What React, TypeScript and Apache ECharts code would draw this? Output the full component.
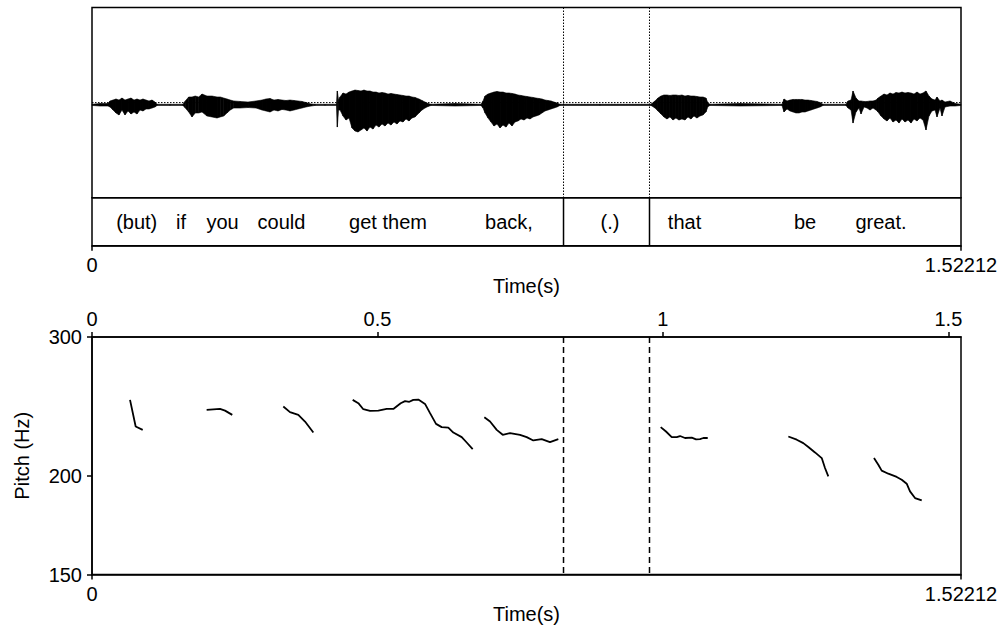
import React, { useEffect, useRef } from 'react';
import * as echarts from 'echarts';

// ---------- data ----------
const TOTAL_DURATION = 1.52212;
const boundaryTimes = [0.8259, 0.9765];
const tierWords = ['(but)', 'if', 'you', 'could', 'get them', 'back,', '(.)', 'that', 'be', 'great.'];
const tierWordTimes = [0.0783, 0.1559, 0.2286, 0.3319, 0.5185, 0.7304, 0.9073, 1.0378, 1.2489, 1.382];
const topTimeTicks = [0, 0.5, 1, 1.5];
const endTimeTicks = [0, TOTAL_DURATION];
const pitchTicks = [150, 200, 300];

// waveform envelope (normalized amplitude, full scale = 1)
const waveTime = [
  0, 0.014, 0.028, 0.0315, 0.0368, 0.042, 0.0473, 0.0525, 0.0578, 0.0631, 0.0683, 0.0736, 0.0788, 0.0841, 0.0893,
  0.0946, 0.0998, 0.1051, 0.1104, 0.1139, 0.1366, 0.1594, 0.1634, 0.1694, 0.1752, 0.1809, 0.1869, 0.1927, 0.2014,
  0.2102, 0.219, 0.2247, 0.2307, 0.2365, 0.2422, 0.2482, 0.2592, 0.2733, 0.2873, 0.2978, 0.3048, 0.3118, 0.3188,
  0.3258, 0.3328, 0.3398, 0.3468, 0.3538, 0.3608, 0.3678, 0.3748, 0.3836, 0.3906, 0.4081, 0.4283, 0.4297, 0.4318,
  0.4344, 0.4397, 0.4449, 0.4502, 0.4554, 0.4607, 0.4659, 0.4712, 0.4764, 0.4817, 0.4869, 0.4922, 0.4975, 0.5027,
  0.508, 0.5132, 0.5185, 0.5237, 0.529, 0.5342, 0.5395, 0.5447, 0.55, 0.5553, 0.5605, 0.5658, 0.5728, 0.578, 0.5833,
  0.5885, 0.5938, 0.6358, 0.6814, 0.6849, 0.6884, 0.6936, 0.6989, 0.7041, 0.7094, 0.7147, 0.7199, 0.7252, 0.7304,
  0.7357, 0.7409, 0.7462, 0.7514, 0.7567, 0.7619, 0.7672, 0.7725, 0.7777, 0.783, 0.7882, 0.7935, 0.7987, 0.804,
  0.8092, 0.8145, 0.8197, 0.8898, 0.9791, 0.9808, 0.9861, 0.9913, 0.9966, 1.0018, 1.0071, 1.0123, 1.0176, 1.0228,
  1.0281, 1.0333, 1.0386, 1.0439, 1.0491, 1.0544, 1.0596, 1.0649, 1.0701, 1.0754, 1.0789, 1.0825, 1.135, 1.2086,
  1.2121, 1.2174, 1.2226, 1.2279, 1.2331, 1.2384, 1.2436, 1.2489, 1.2541, 1.2594, 1.2647, 1.2699, 1.2752, 1.2804,
  1.3207, 1.3242, 1.3295, 1.333, 1.3382, 1.3435, 1.347, 1.3523, 1.3575, 1.3628, 1.368, 1.3733, 1.3768, 1.382,
  1.3873, 1.3925, 1.3978, 1.403, 1.4083, 1.4135, 1.4188, 1.424, 1.4293, 1.4345, 1.4398, 1.4451, 1.4503, 1.4556,
  1.4608, 1.4661, 1.4713, 1.4766, 1.4801, 1.4853, 1.4888, 1.4941, 1.5029, 1.5116, 1.5221,
];
const waveHigh = [
  -0.018, -0.009, -0.009, 0.017, 0.027, 0.038, 0.027, 0.048, 0.027, 0.038, 0.048, 0.027, 0.038, 0.027, 0.038,
  0.027, 0.017, 0.027, 0.006, -0.018, -0.018, -0.018, 0.017, 0.059, 0.059, 0.069, 0.059, 0.09, 0.069,
  0.069, 0.059, 0.059, 0.048, 0.038, 0.027, 0.017, 0.012, 0.006, 0.017, 0.027, 0.038, 0.043, 0.027,
  0.033, 0.027, 0.022, 0.027, 0.022, 0.017, 0.012, 0.001, -0.015, -0.018, -0.018, -0.018, 0.122, 0.027,
  0.059, 0.101, 0.09, 0.111, 0.122, 0.132, 0.127, 0.122, 0.132, 0.122, 0.122, 0.111, 0.111, 0.101,
  0.106, 0.101, 0.09, 0.096, 0.09, 0.085, 0.08, 0.075, 0.069, 0.069, 0.059, 0.054, 0.038, 0.022, 0.006,
  -0.009, -0.018, -0.009, -0.018, 0.017, 0.069, 0.09, 0.101, 0.111, 0.117, 0.111, 0.111, 0.101, 0.101,
  0.096, 0.09, 0.08, 0.075, 0.069, 0.064, 0.059, 0.054, 0.048, 0.043, 0.038, 0.027, 0.022, 0.017,
  0.006, -0.004, -0.018, -0.018, -0.018, -0.009, 0.017, 0.048, 0.069, 0.08, 0.08, 0.075, 0.08, 0.08,
  0.075, 0.08, 0.069, 0.075, 0.069, 0.069, 0.064, 0.059, 0.059, 0.048, -0.004, -0.018, -0.009, -0.018,
  0.038, 0.017, 0.027, 0.033, 0.033, 0.033, 0.033, 0.027, 0.027, 0.022, 0.017, 0.012, 0.001, -0.018,
  -0.018, 0.017, 0.027, 0.122, 0.048, 0.017, 0.017, 0.012, 0.012, 0.017, 0.017, 0.027, 0.048, 0.069,
  0.09, 0.08, 0.101, 0.09, 0.106, 0.101, 0.111, 0.101, 0.106, 0.101, 0.09, 0.111, 0.09, 0.101,
  0.122, 0.069, 0.038, 0.027, 0.059, 0.017, 0.027, 0.006, 0.017, -0.009, -0.018,
];
const waveLow = [
  -0.03, -0.036, -0.036, -0.046, -0.078, -0.109, -0.13, -0.078, -0.13, -0.088, -0.12, -0.099, -0.12, -0.078, -0.088,
  -0.067, -0.067, -0.057, -0.046, -0.03, -0.03, -0.03, -0.057, -0.099, -0.151, -0.109, -0.109, -0.099, -0.141,
  -0.151, -0.162, -0.151, -0.141, -0.109, -0.078, -0.057, -0.057, -0.052, -0.057, -0.078, -0.088, -0.099, -0.078,
  -0.088, -0.072, -0.078, -0.088, -0.078, -0.067, -0.057, -0.046, -0.036, -0.03, -0.03, -0.03, -0.257, -0.078,
  -0.078, -0.141, -0.183, -0.162, -0.267, -0.299, -0.309, -0.288, -0.267, -0.299, -0.257, -0.278, -0.236, -0.257,
  -0.225, -0.246, -0.215, -0.236, -0.204, -0.225, -0.193, -0.204, -0.172, -0.193, -0.162, -0.151, -0.109, -0.078, -0.057,
  -0.041, -0.03, -0.036, -0.03, -0.057, -0.109, -0.162, -0.204, -0.246, -0.225, -0.267, -0.236, -0.257, -0.215,
  -0.246, -0.204, -0.193, -0.172, -0.183, -0.162, -0.172, -0.151, -0.141, -0.13, -0.109, -0.088, -0.078, -0.067,
  -0.057, -0.046, -0.03, -0.03, -0.03, -0.036, -0.057, -0.088, -0.12, -0.151, -0.172, -0.151, -0.183, -0.162,
  -0.183, -0.172, -0.183, -0.151, -0.172, -0.141, -0.162, -0.141, -0.13, -0.099, -0.041, -0.03, -0.036, -0.03,
  -0.099, -0.067, -0.088, -0.099, -0.109, -0.109, -0.099, -0.099, -0.088, -0.078, -0.067, -0.057, -0.046, -0.03,
  -0.03, -0.057, -0.078, -0.215, -0.099, -0.057, -0.12, -0.046, -0.057, -0.078, -0.057, -0.078, -0.099, -0.141,
  -0.172, -0.193, -0.162, -0.204, -0.183, -0.215, -0.172, -0.204, -0.183, -0.215, -0.172, -0.193, -0.162, -0.183,
  -0.288, -0.141, -0.088, -0.078, -0.151, -0.057, -0.141, -0.046, -0.036, -0.036, -0.03,
];

// pitch contour (Hz); null separates voiced stretches
const pitchTime = [
  0.0666, 0.0765, 0.0888, null,
  0.2008, 0.2242, 0.233, 0.2457, null,
  0.3351, 0.3468, 0.3614, 0.3731, 0.3877, null,
  0.4566, 0.4665, 0.4752, 0.487, 0.5015, 0.5162, 0.5278, 0.5407, 0.5483, 0.5558, 0.5628, 0.5716, 0.5833, 0.5921,
  0.6026, 0.6125, 0.6241, 0.6329, 0.6476, 0.6563, 0.6668, null,
  0.6872, 0.6972, 0.7089, 0.7194, 0.7322, 0.7497, 0.7614, 0.773, 0.7877, 0.8022, 0.8168, null,
  0.9961, 1.0054, 1.0154, 1.0242, 1.03, 1.0387, 1.0505, 1.058, 1.065, 1.0708, 1.0785, null,
  1.2197, 1.2344, 1.2459, 1.2547, 1.2664, 1.2782, 1.2839, 1.2897, null,
  1.3697, 1.3773, 1.3832, 1.3948, 1.4095, 1.4183, 1.427, 1.4328, 1.4416, 1.4533,
];
const pitchHz = [
  249.7, 231.0, 228.8, null,
  242.5, 243.2, 242.0, 239.0, null,
  244.9, 240.9, 239.0, 234.4, 227.0, null,
  249.7, 247.3, 243.0, 241.8, 242.0, 243.2, 243.2, 247.3, 248.8, 248.3, 249.7, 249.9, 246.8, 240.2,
  232.8, 230.6, 230.3, 227.0, 224.0, 220.5, 216.3, null,
  237.4, 234.4, 228.8, 225.5, 226.6, 225.5, 224.0, 221.8, 222.7, 220.8, 222.7, null,
  230.6, 227.7, 224.0, 224.0, 224.7, 223.4, 223.6, 222.5, 222.7, 223.4, 223.4, null,
  224.4, 222.3, 220.1, 217.6, 214.2, 210.7, 204.7, 199.7, null,
  210.7, 206.6, 203.1, 201.3, 199.4, 197.8, 195.5, 191.2, 187.5, 186.2,
];

// ---------- helpers ----------
const FONT = '"Liberation Sans", Arial, Helvetica, sans-serif';
const BLACK = '#000';

function pitchSegments(): number[][][] {
  const segs: number[][][] = [];
  let cur: number[][] = [];
  pitchTime.forEach((t, i) => {
    const v = pitchHz[i];
    if (t == null || v == null) {
      if (cur.length) segs.push(cur);
      cur = [];
    } else {
      cur.push([t, v]);
    }
  });
  if (cur.length) segs.push(cur);
  return segs;
}

const fmtTime = (v: number) => (Math.abs(v - TOTAL_DURATION) < 1e-9 ? '1.52212' : String(v));

function buildOption(): any {
  const GL = 92;
  const GW = 869;
  const labelStyle = { color: BLACK, fontSize: 20, fontFamily: FONT };
  const lineStyle = { color: BLACK, width: 1.5 };
  const gridBase = { left: GL, width: GW, show: true, borderColor: BLACK, borderWidth: 1.5, backgroundColor: 'transparent' };

  const segs = pitchSegments();

  return {
    animation: false,
    backgroundColor: '#fff',
    textStyle: { fontFamily: FONT },
    grid: [
      { ...gridBase, top: 7.5, height: 190.2 },
      { ...gridBase, top: 197.7, height: 48 },
      { ...gridBase, top: 337, height: 237.5 },
    ],
    xAxis: [
      { type: 'value', gridIndex: 0, min: 0, max: TOTAL_DURATION, show: false },
      {
        type: 'value', gridIndex: 1, min: 0, max: TOTAL_DURATION, position: 'bottom',
        axisLine: { show: true, lineStyle },
        axisTick: { show: true, length: 5, lineStyle, customValues: endTimeTicks },
        axisLabel: { ...labelStyle, margin: 9, customValues: endTimeTicks, formatter: fmtTime, showMinLabel: true, showMaxLabel: true },
        splitLine: { show: false },
        name: 'Time(s)', nameLocation: 'middle', nameGap: 29, nameTextStyle: labelStyle,
      },
      {
        type: 'value', gridIndex: 2, min: 0, max: TOTAL_DURATION, position: 'top',
        axisLine: { show: true, lineStyle },
        axisTick: { show: true, length: 5, lineStyle, customValues: topTimeTicks },
        axisLabel: { ...labelStyle, margin: 8, customValues: topTimeTicks, formatter: (v: number) => String(v) },
        splitLine: { show: false },
      },
      {
        type: 'value', gridIndex: 2, min: 0, max: TOTAL_DURATION, position: 'bottom',
        axisLine: { show: true, lineStyle },
        axisTick: { show: true, length: 5, lineStyle, customValues: endTimeTicks },
        axisLabel: { ...labelStyle, margin: 9, customValues: endTimeTicks, formatter: fmtTime, showMinLabel: true, showMaxLabel: true },
        splitLine: { show: false },
        name: 'Time(s)', nameLocation: 'middle', nameGap: 29, nameTextStyle: labelStyle,
      },
    ],
    yAxis: [
      { type: 'value', gridIndex: 0, min: -1, max: 1, show: false },
      { type: 'value', gridIndex: 1, min: 0, max: 1, show: false },
      {
        type: 'log', gridIndex: 2, min: 150, max: 300, logBase: 10,
        axisLine: { show: true, lineStyle },
        axisTick: { show: true, length: 5, lineStyle, customValues: pitchTicks },
        axisLabel: { ...labelStyle, margin: 10, customValues: pitchTicks, formatter: (v: number) => String(Math.round(v)) },
        splitLine: { show: false },
        minorTick: { show: false },
        name: 'Pitch (Hz)', nameLocation: 'middle', nameRotate: 90, nameGap: 60, nameTextStyle: labelStyle,
      },
    ],
    series: [
      // zero line (dotted)
      {
        type: 'custom', xAxisIndex: 0, yAxisIndex: 0, silent: true, z: 1,
        data: [[0, 0]],
        renderItem: (_p: any, api: any) => {
          const a = api.coord([0, 0]);
          const b = api.coord([TOTAL_DURATION, 0]);
          return { type: 'line', shape: { x1: a[0], y1: a[1], x2: b[0], y2: b[1] }, style: { stroke: BLACK, lineWidth: 1, lineDash: [1.5, 1.5] } };
        },
      },
      // waveform envelope
      {
        type: 'custom', xAxisIndex: 0, yAxisIndex: 0, silent: true, z: 2,
        data: waveTime.map((t, i) => [t, waveHigh[i], waveLow[i]]),
        encode: { x: 0, y: [1, 2] },
        renderItem: (params: any, api: any) => {
          const i = params.dataIndex;
          if (i >= waveTime.length - 1) return null;
          const a = api.coord([waveTime[i], waveHigh[i]]);
          const b = api.coord([waveTime[i + 1], waveHigh[i + 1]]);
          const c = api.coord([waveTime[i + 1], waveLow[i + 1]]);
          const d = api.coord([waveTime[i], waveLow[i]]);
          return { type: 'polygon', shape: { points: [a, b, c, d] }, style: { fill: BLACK, stroke: BLACK, lineWidth: 0.6 } };
        },
      },
      // boundaries in waveform (dotted)
      {
        type: 'custom', xAxisIndex: 0, yAxisIndex: 0, silent: true, z: 3,
        data: boundaryTimes.map((t) => [t, 0]),
        renderItem: (_p: any, api: any) => {
          const t = api.value(0);
          const a = api.coord([t, 1]);
          const b = api.coord([t, -1]);
          return { type: 'line', shape: { x1: a[0], y1: a[1], x2: b[0], y2: b[1] }, style: { stroke: BLACK, lineWidth: 1, lineDash: [1.5, 1.5] } };
        },
      },
      // boundaries in tier (solid)
      {
        type: 'custom', xAxisIndex: 1, yAxisIndex: 1, silent: true,
        data: boundaryTimes.map((t) => [t, 0]),
        renderItem: (_p: any, api: any) => {
          const t = api.value(0);
          const a = api.coord([t, 1]);
          const b = api.coord([t, 0]);
          return { type: 'line', shape: { x1: a[0], y1: a[1], x2: b[0], y2: b[1] }, style: { stroke: BLACK, lineWidth: 1.5 } };
        },
      },
      // tier words
      {
        type: 'custom', xAxisIndex: 1, yAxisIndex: 1, silent: true,
        data: tierWordTimes.map((t, i) => [t, 0.5, i]),
        renderItem: (params: any, api: any) => {
          const i = params.dataIndex;
          const p = api.coord([tierWordTimes[i], 0.5]);
          return {
            type: 'text', x: p[0], y: p[1],
            style: { text: tierWords[i], fill: BLACK, fontSize: 20, fontFamily: FONT, align: 'center', verticalAlign: 'middle' },
          };
        },
      },
      // boundaries in pitch panel (dashed)
      {
        type: 'custom', xAxisIndex: 2, yAxisIndex: 2, silent: true,
        data: boundaryTimes.map((t) => [t, 200]),
        renderItem: (_p: any, api: any) => {
          const t = api.value(0);
          const a = api.coord([t, 300]);
          const b = api.coord([t, 150]);
          return { type: 'line', shape: { x1: a[0], y1: a[1], x2: b[0], y2: b[1] }, style: { stroke: BLACK, lineWidth: 1.5, lineDash: [6, 4] } };
        },
      },
      // pitch contours
      ...segs.map((seg) => ({
        type: 'line', xAxisIndex: 2, yAxisIndex: 2, data: seg, symbol: 'none', silent: true,
        lineStyle: { color: BLACK, width: 1.8 }, itemStyle: { color: BLACK },
      })),
    ],
  };
}

export default function App() {
  const ref = useRef<HTMLDivElement>(null);
  useEffect(() => {
    if (!ref.current) return;
    const chart = echarts.init(ref.current, undefined, { renderer: 'svg' });
    chart.setOption(buildOption());
    return () => chart.dispose();
  }, []);
  return (
    <div
      ref={ref}
      style={{ position: 'absolute', left: 0, top: 0, width: 1002, height: 626, background: '#fff' }}
    />
  );
}
